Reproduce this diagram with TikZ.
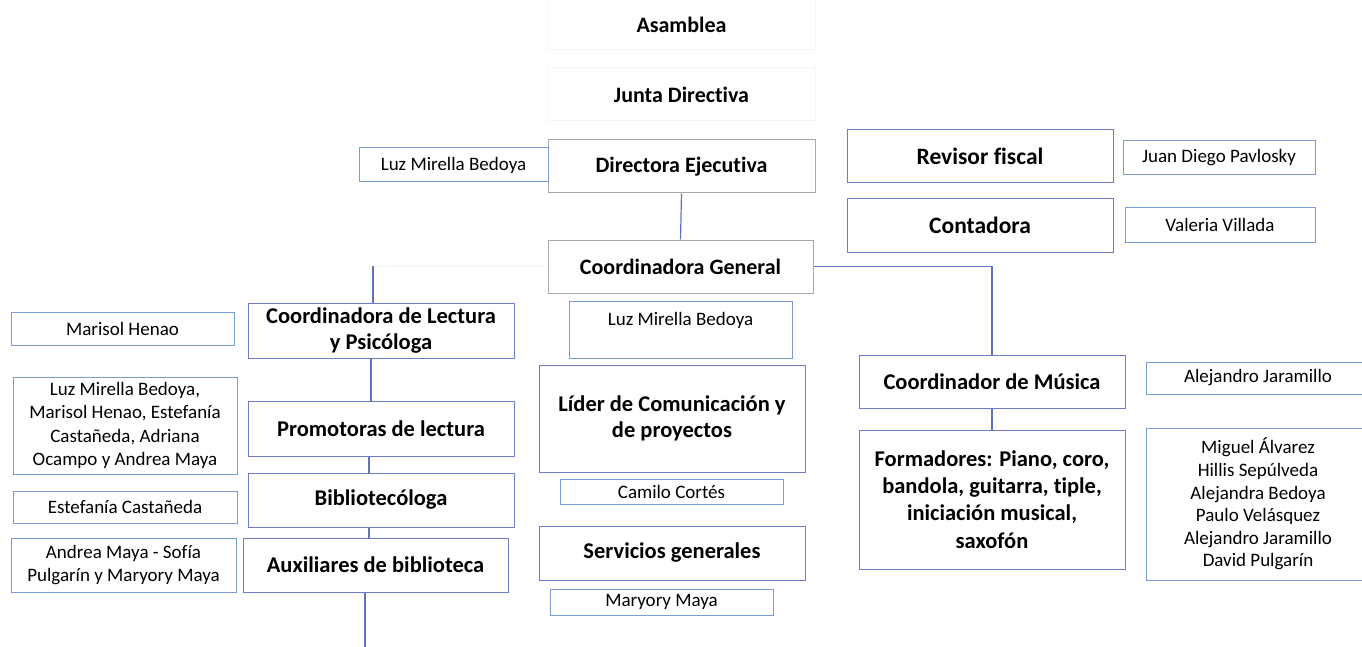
\documentclass[tikz,border=0pt]{standalone}
\usepackage{fontspec}
\setmainfont{Carlito}[Ligatures=NoCommon]
\usepackage{tikz}
\definecolor{boxblue}{RGB}{112,124,200}
\definecolor{nameblue}{RGB}{120,156,212}
\definecolor{boxgray}{RGB}{168,168,168}
\definecolor{lineblue}{RGB}{96,112,196}
\definecolor{faintgray}{RGB}{245,245,245}
\tikzstyle{node_main} = [draw=boxblue, line width=1pt, inner sep=0pt, align=center, font=\fontsize{22.5}{26}\selectfont\bfseries]
\tikzstyle{node_big} = [node_main, font=\fontsize{23.5}{28}\selectfont\bfseries]
\tikzstyle{node_gray} = [node_main, draw=boxgray, font=\fontsize{22}{26}\selectfont\bfseries]
\tikzstyle{node_faint} = [node_gray, draw=faintgray]
\tikzstyle{node_name} = [draw=nameblue, line width=1pt, inner sep=0pt, align=center, font=\fontsize{19}{23.2}\selectfont]
\tikzstyle{edge_normal} = [draw=lineblue, line width=1.2pt]

\begin{document}
\begin{tikzpicture}[x=1pt, y=-1pt]
\useasboundingbox (0,0) rectangle (1362,647);
% top of the chart
\node (asam) at (681.5,25) [node_faint, minimum width=267, minimum height=50] {Asamblea};
\node (junta) at (681.5,94.5) [node_faint, minimum width=267, minimum height=53] {Junta Directiva};
\node (dir) at (681.5,166.5) [node_gray, minimum width=267, minimum height=53] {Directora Ejecutiva};
\node (luz_a) at (453.5,165) [node_name, minimum width=189, minimum height=34] {Luz Mirella Bedoya};
\node (rev) at (980,156.5) [node_big, minimum width=266, minimum height=53] {Revisor fiscal};
\node (juan) at (1219,158) [node_name, minimum width=192, minimum height=34] {Juan Diego Pavlosky};
\node (cont) at (980,225.5) [node_big, minimum width=266, minimum height=53] {Contadora};
\node (val) at (1220,225) [node_name, minimum width=190, minimum height=34] {Valeria Villada};
\node (cgen) at (680.5,266.5) [node_gray, minimum width=265, minimum height=53] {Coordinadora General};
% lectura
\node (clec) at (381,330.5) [node_main, minimum width=266, minimum height=55] {Coordinadora de Lectura\\y Psicóloga};
\node (mar) at (122.5,328.5) [node_name, minimum width=223, minimum height=33] {Marisol Henao};
\node (prom) at (381,428.5) [node_main, minimum width=266, minimum height=55] {Promotoras de lectura};
\node (prom_n) at (125,425.5) [node_name, minimum width=224, minimum height=97] {Luz Mirella Bedoya,\\Marisol Henao, Estefanía\\Castañeda, Adriana\\Ocampo y Andrea Maya};
\node (bib) at (381,500) [node_main, minimum width=266, minimum height=54] {Bibliotecóloga};
\node (est) at (125,507) [node_name, minimum width=224, minimum height=32] {Estefanía Castañeda};
\node (aux) at (375.5,565) [node_main, minimum width=265, minimum height=54] {Auxiliares de biblioteca};
\node (aux_n) at (123.5,565) [node_name, minimum width=225, minimum height=54] {Andrea Maya - Sofía\\Pulgarín y Maryory Maya};
% comunicacion
\node (luz_b) at (680.5,301) [node_name, anchor=north, minimum width=223, text height=24pt, text depth=33pt] {Luz Mirella Bedoya};
\node (lider) at (672,418.5) [node_main, minimum width=266, minimum height=107] {Líder de Comunicación y\\de proyectos};
\node (cam) at (671.5,491.5) [node_name, minimum width=223, minimum height=25] {Camilo Cortés};
\node (serv) at (672,553) [node_main, minimum width=266, minimum height=54] {Servicios generales};
\node (mmaya) at (661.5,602) [node_name, minimum width=223, minimum height=26] {Maryory Maya};
% musica
\node (cmus) at (992,381.5) [node_main, minimum width=266, minimum height=53] {Coordinador de Música};
\node (alej) at (1258,378) [node_name, minimum width=224, minimum height=32] {Alejandro Jaramillo};
\node (form) at (992,499.5) [node_main, minimum width=266, minimum height=139, font=\fontsize{22.5}{27.3}\selectfont\bfseries] {Formadores: Piano, coro,\\bandola, guitarra, tiple,\\iniciación musical,\\saxofón};
\node (form_n) at (1258,504) [node_name, minimum width=224, minimum height=152, font=\fontsize{19}{22.6}\selectfont] {Miguel Álvarez\\Hillis Sepúlveda\\Alejandra Bedoya\\Paulo Velásquez\\Alejandro Jaramillo\\David Pulgarín};
% connectors
\coordinate (lt) at (373,266);
\coordinate (bot) at (365,647);
\draw[edge_normal] (dir.south) -- (cgen.north);
\draw[edge_normal] (cgen.east) -| (cmus.north);
\draw[edge_normal] (cmus.south) -- (form.north);
\draw[draw=faintgray, line width=1pt] (cgen.west) -- (lt);
\draw[edge_normal, line width=2.5pt] (lt) -- (lt |- clec.north);
\draw[edge_normal] ([xshift=-10pt]clec.south) -- ([xshift=-10pt]prom.north);
\draw[edge_normal] ([xshift=-12pt]prom.south) -- ([xshift=-12pt]bib.north);
\draw[edge_normal] ([xshift=-12pt]bib.south) -- ([xshift=-6.5pt]aux.north);
\draw[edge_normal] (aux.south -| bot) -- (bot);
\end{tikzpicture}
\end{document}
